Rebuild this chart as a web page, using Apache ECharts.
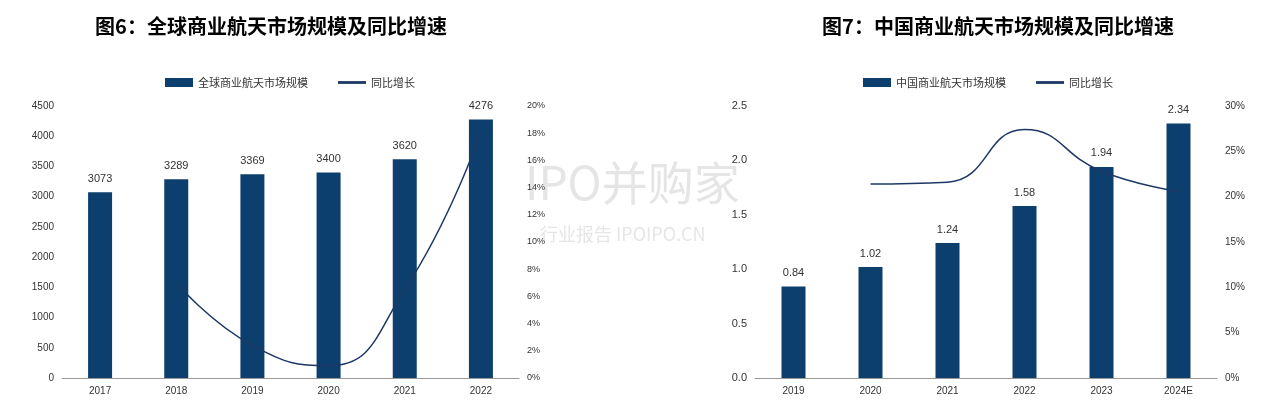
<!DOCTYPE html>
<html><head><meta charset="utf-8">
<script src="https://cdn.jsdelivr.net/npm/echarts@6/dist/echarts.min.js"></script>
<style>html,body{margin:0;background:#fff}#c{width:1270px;height:406px}</style>
</head><body><div id="c"></div>
<script>
const catsL = ['2017','2018','2019','2020','2021','2022'];
const barL = [3073,3289,3369,3400,3620,4276];
const lineL = [null,7.0,2.4,0.9,6.5,18.1];
const catsR = ['2019','2020','2021','2022','2023','2024E'];
const barR = [0.84,1.02,1.24,1.58,1.94,2.34];
const lineR = [null,21.4,21.6,27.4,22.8,20.6];
const ff = '"Noto Sans CJK SC", sans-serif';
const navy = '#0d3f6e', lineC = '#1e3866';
const ax = {axisLine:{show:false},axisTick:{show:false},splitLine:{show:false},axisLabel:{fontSize:10,color:'#333',fontFamily:'Arial'}};
const chart = echarts.init(document.getElementById('c'));
chart.setOption({
  animation:false,
  title:[
    {text:'图6：全球商业航天市场规模及同比增速',left:266,textAlign:'center',top:11,textStyle:{fontSize:20,fontWeight:'bold',color:'#000',fontFamily:ff}},
    {text:'图7：中国商业航天市场规模及同比增速',left:993,textAlign:'center',top:11,textStyle:{fontSize:20,fontWeight:'bold',color:'#000',fontFamily:ff}}
  ],
  legend:[
    {left:160,top:72,itemWidth:28,itemHeight:9,itemGap:30,textStyle:{fontSize:11,fontFamily:ff,color:'#333'},data:[{name:'全球商业航天市场规模',icon:'rect'},{name:'同比增长',icon:'path://M0,0H10V1H0Z'}]},
    {left:858,top:72,itemWidth:28,itemHeight:9,itemGap:30,textStyle:{fontSize:11,fontFamily:ff,color:'#333'},data:[{name:'中国商业航天市场规模',icon:'rect'},{name:'同比增长 ',icon:'path://M0,0H10V1H0Z'}]}
  ],
  graphic:[{type:'text',left:525,top:160,style:{text:'IPO并购家',fontSize:46,fill:'rgba(180,180,180,0.35)',fontFamily:ff}},
           {type:'text',left:540,top:225,style:{text:'行业报告 IPOIPO.CN',fontSize:18,fill:'rgba(180,180,180,0.35)',fontFamily:ff}}],
  grid:[{left:62,right:751,top:106,bottom:28},{left:755,right:53,top:106,bottom:28}],
  xAxis:[
    Object.assign({},ax,{type:'category',gridIndex:0,data:catsL,axisLine:{show:true,lineStyle:{color:'#999'}}}),
    Object.assign({},ax,{type:'category',gridIndex:1,data:catsR,axisLine:{show:true,lineStyle:{color:'#999'}}})
  ],
  yAxis:[
    Object.assign({},ax,{type:'value',gridIndex:0,min:0,max:4500,interval:500,axisLabel:{fontSize:10,color:'#333',formatter:v=>String(v)}}),
    Object.assign({},ax,{type:'value',gridIndex:0,min:0,max:20,interval:2,position:'right',axisLabel:{fontSize:9,color:'#333',formatter:'{value}%'}}),
    Object.assign({},ax,{type:'value',gridIndex:1,min:0,max:2.5,interval:0.5,axisLabel:{fontSize:11,color:'#333',formatter:v=>v.toFixed(1)}}),
    Object.assign({},ax,{type:'value',gridIndex:1,min:0,max:30,interval:5,position:'right',axisLabel:{fontSize:10,color:'#333',formatter:'{value}%'}})
  ],
  series:[
    {name:'全球商业航天市场规模',type:'bar',xAxisIndex:0,yAxisIndex:0,data:barL,barWidth:24,itemStyle:{color:navy},label:{show:true,position:'top',fontSize:11,color:'#333',distance:8}},
    {name:'同比增长',type:'line',xAxisIndex:0,yAxisIndex:1,data:lineL,smooth:true,symbol:'none',lineStyle:{color:lineC,width:1.5},itemStyle:{color:lineC}},
    {name:'中国商业航天市场规模',type:'bar',xAxisIndex:1,yAxisIndex:2,data:barR,barWidth:24,itemStyle:{color:navy},label:{show:true,position:'top',fontSize:11,color:'#333',distance:8,formatter:p=>p.value.toFixed(2)}},
    {name:'同比增长 ',type:'line',xAxisIndex:1,yAxisIndex:3,data:lineR,smooth:true,symbol:'none',lineStyle:{color:lineC,width:1.5},itemStyle:{color:lineC}}
  ]
});
</script></body></html>
